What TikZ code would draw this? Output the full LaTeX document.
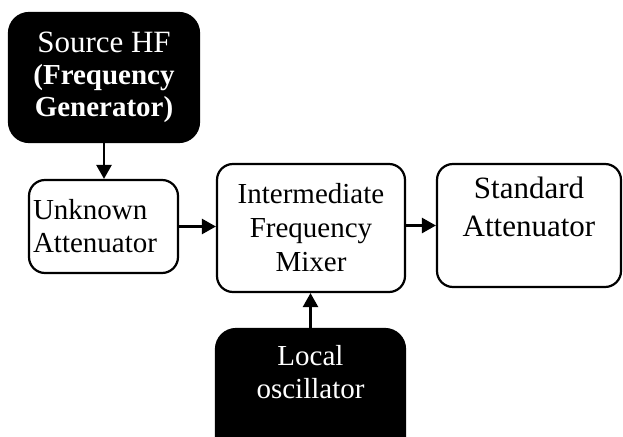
\documentclass[tikz,border=0pt]{standalone}
\usepackage{fontspec}
\setmainfont{Liberation Serif}
\usetikzlibrary{arrows.meta}
\begin{document}
\begin{tikzpicture}[x=1pt,y=1pt,
  wbox/.style={draw=black, line width=2.2pt, fill=white, rounded corners=16pt, inner sep=0pt, align=center},
  bbox/.style={draw=black, line width=2.2pt, fill=black, text=white, rounded corners=20pt, inner sep=0pt, align=center},
  conn/.style={line width=2.6pt, -{Triangle[length=14pt,width=15pt]}}]
\useasboundingbox (0,0) rectangle (623,-436);
\clip (0,0) rectangle (623,-436);
\node[bbox, minimum width=190pt, minimum height=129pt, font=\fontsize{29}{32}\selectfont] (src) at (104,-77.5)
  {\fontsize{31}{32}\selectfont Source HF\\\bfseries(Frequency\\\bfseries Generator)};
\node[wbox, minimum width=149pt, minimum height=93pt, text width=141pt, align=left, font=\fontsize{29}{33}\selectfont] (unk) at (103.5,-226.5)
  {Unknown\\Attenuator};
\node[wbox, minimum width=188pt, minimum height=128pt, font=\fontsize{29}{34}\selectfont] (mix) at (311,-228)
  {Intermediate\\Frequency\\Mixer};
\node[wbox, minimum width=184pt, minimum height=123pt, font=\fontsize{31}{38}\selectfont] (std) at (529,-225.5)
  {Standard\\Attenuator\\\mbox{}};
\node[bbox, minimum width=189pt, minimum height=152pt, font=\fontsize{29}{33}\selectfont] (loc) at (310.5,-405)
  {Local\\oscillator\\\mbox{}\\\mbox{}};
\draw[conn] (src.south) -- (src.south |- unk.north);
\draw[conn] (unk.east) -- (unk.east -| mix.west);
\draw[conn] (mix.east |- std.west) -- (std.west);
\draw[conn] (loc.north) -- (loc.north |- mix.south);
\end{tikzpicture}
\end{document}
